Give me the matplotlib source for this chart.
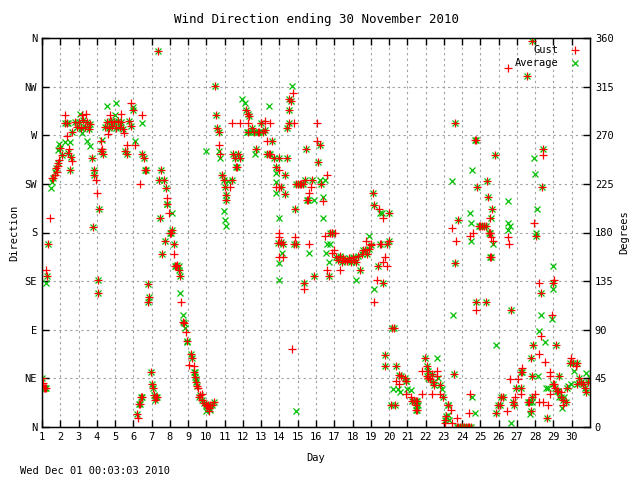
import numpy as np
import matplotlib
matplotlib.use("Agg")
import matplotlib.pyplot as plt

# (day, degrees) where gust and average direction coincide
both = [
    (1.0, 45), (1.1, 36), (1.15, 36), (1.2, 36), (1.33, 169), (1.3, 140),
    (1.6, 230), (1.75, 240), (1.85, 244),
    (2.0, 258), (2.1, 252), (2.25, 281), (2.35, 281), (2.45, 254), (2.55, 238), (2.6, 250),
    (2.65, 273), (2.8, 282), (2.9, 278),
    (3.05, 282), (3.15, 277), (3.25, 284), (3.35, 278), (3.45, 282), (3.55, 276), (3.65, 280),
    (3.74, 249), (3.83, 238), (3.83, 233), (3.8, 185),
    (4.08, 136), (4.08, 124), (4.1, 202), (4.25, 255), (4.35, 253), (4.45, 278), (4.55, 282),
    (4.65, 277), (4.75, 283), (4.85, 279), (4.95, 282),
    (5.05, 277), (5.15, 283), (5.25, 278), (5.35, 282), (5.45, 276), (5.55, 255), (5.65, 253),
    (5.75, 283), (5.85, 279), (5.98, 293),
    (6.18, 12), (6.3, 21), (6.35, 21), (6.43, 28), (6.48, 28), (6.5, 253), (6.6, 249),
    (6.66, 238), (6.72, 238), (6.78, 132), (6.87, 120), (6.83, 116), (6.96, 51),
    (7.0, 40), (7.1, 36), (7.15, 30), (7.2, 25), (7.25, 28), (7.3, 28), (7.36, 348), (7.41, 229),
    (7.47, 193), (7.5, 238), (7.58, 160), (7.69, 229), (7.73, 172), (7.78, 221), (7.85, 206),
    (8.0, 180), (8.05, 180), (8.09, 182), (8.25, 169), (8.3, 149), (8.35, 149), (8.4, 150),
    (8.5, 145), (8.58, 140), (8.7, 97), (8.8, 96), (8.95, 80),
    (9.13, 68), (9.22, 64), (9.3, 51), (9.4, 46), (9.45, 42), (9.5, 38), (9.58, 28), (9.65, 30),
    (9.77, 25), (9.85, 22),
    (10.0, 20), (10.05, 19), (10.1, 20), (10.15, 18), (10.2, 20), (10.3, 20), (10.4, 23),
    (10.46, 316), (10.5, 289), (10.6, 277), (10.68, 273),
    (10.86, 233), (10.95, 229), (11.0, 222), (11.05, 215), (11.1, 210), (11.38, 229),
    (11.45, 253), (11.55, 249), (11.6, 241), (11.65, 241), (11.75, 253), (11.85, 249),
    (12.15, 293), (12.25, 290), (12.35, 288), (12.3, 273), (12.5, 277), (12.6, 273),
    (12.7, 257), (12.8, 273), (12.9, 273),
    (13.0, 281), (13.1, 273), (13.2, 275), (13.3, 253), (13.4, 253), (13.5, 253), (13.7, 249),
    (14.0, 249), (14.06, 222), (14.3, 233), (14.3, 216), (14.4, 249),
    (13.9, 170), (14.1, 171), (14.2, 169), (14.43, 277), (14.5, 281), (14.5, 304),
    (14.52, 293), (14.65, 302), (14.85, 202),
    (14.8, 169), (14.9, 169), (14.9, 225), (15.0, 225), (15.1, 225), (15.2, 225), (15.3, 225),
    (15.33, 133), (15.43, 257), (15.4, 229), (15.5, 210), (15.55, 210), (15.8, 229), (15.9, 140),
    (16.1, 245), (16.2, 261), (16.3, 225), (16.7, 140), (16.75, 180), (16.85, 180), (16.9, 180),
    (17.1, 157), (17.2, 155), (17.3, 158), (17.4, 153), (17.5, 156), (17.6, 155), (17.7, 154),
    (17.8, 156), (17.9, 153), (18.0, 157), (18.1, 155), (18.2, 153), (18.4, 145),
    (18.3, 158), (18.5, 160), (18.6, 164), (18.7, 164), (18.8, 160), (18.9, 165), (19.0, 168),
    (19.1, 217), (19.2, 205), (19.4, 149), (19.5, 169), (19.65, 133), (19.75, 67), (19.75, 56),
    (19.9, 169), (20.0, 172), (20.0, 198),
    (20.1, 20), (20.3, 20), (20.15, 91.5), (20.25, 91.5), (20.4, 56), (20.55, 48), (20.65, 47),
    (20.85, 45), (20.9, 43), (20.95, 43),
    (21.27, 24), (21.35, 24), (21.45, 24), (21.55, 24), (21.45, 16), (21.55, 16), (21.5, 20),
    (21.96, 63.5),
    (22.05, 56), (22.15, 52), (22.05, 47), (22.15, 45), (22.25, 44), (22.35, 49), (22.4, 42),
    (22.45, 39), (22.8, 39), (22.97, 28), (23.2, 20), (23.25, 20),
    (23.04, 6.5), (23.1, 10), (23.55, 49), (23.6, 152), (23.6, 281), (23.8, 192),
    (23.7, 0), (23.8, 0), (23.9, 0), (24.0, 0), (24.1, 0), (24.2, 0), (24.3, 0), (24.4, 0), (24.5, 0),
    (24.7, 266), (24.75, 266), (24.77, 116), (24.82, 222), (24.9, 186), (25.0, 186), (25.1, 186),
    (25.2, 186), (25.3, 186),
    (25.28, 116), (25.37, 228), (25.42, 213), (25.45, 180), (25.55, 180), (25.65, 202),
    (25.8, 252), (25.5, 157), (25.6, 157),
    (25.86, 13), (25.95, 20), (26.05, 20), (26.15, 28), (26.25, 28), (26.7, 108.5), (26.8, 23),
    (26.85, 20),
    (26.95, 36), (27.2, 36), (27.2, 51), (27.25, 51), (27.56, 325), (27.6, 23), (27.67, 23),
    (27.75, 64), (27.75, 14.5), (27.8, 28), (27.84, 357), (27.85, 47), (27.9, 76),
    (28.06, 177), (28.3, 124), (28.35, 222), (28.43, 257), (28.65, 8), (28.95, 40), (28.98, 133),
    (29.1, 36), (29.2, 33), (29.25, 33), (29.3, 47), (29.15, 76), (29.4, 28), (29.5, 25),
    (29.66, 23), (29.75, 36),
    (29.9, 59), (30.05, 59), (30.3, 59), (30.3, 40), (30.4, 45), (30.5, 42), (30.6, 40),
    (30.7, 36), (30.8, 32), (30.9, 42), (31.0, 45),
]

# gust readings that differ from the average
gust_only = [
    (1.05, 41), (1.24, 145), (1.42, 193), (1.55, 230), (1.7, 233), (1.8, 236), (1.9, 242), (1.95, 247),
    (2.24, 289), (2.37, 269), (2.64, 246), (2.5, 257),
    (3.19, 289), (3.4, 290), (3.96, 229), (4.0, 217), (4.28, 257), (4.22, 265), (4.7, 289), (4.6, 271),
    (5.3, 290), (5.5, 272), (5.66, 261), (5.89, 300), (6.1, 261), (6.48, 289), (6.35, 225), (6.26, 8),
    (7.85, 212), (7.95, 198), (8.25, 160), (8.63, 116), (8.9, 88), (9.04, 57), (9.3, 56), (9.55, 36),
    (9.77, 31), (10.13, 15),
    (10.68, 261), (10.77, 253), (11.3, 222), (11.4, 281), (11.85, 281), (12.3, 281), (13.0, 281),
    (13.2, 283), (13.5, 281), (13.3, 265), (13.6, 265), (13.8, 241), (14.0, 238), (13.8, 222), (14.0, 222),
    (14.0, 180), (14.0, 176), (14.85, 176), (14.0, 157), (14.2, 157), (15.6, 169), (15.33, 128),
    (14.7, 72), (14.76, 309), (14.8, 281), (15.7, 222), (15.6, 217), (16.07, 281), (16.07, 265),
    (16.6, 233), (16.4, 209), (16.5, 177), (16.6, 145), (16.9, 161), (17.0, 164), (17.05, 180), (17.3, 145),
    (18.75, 172), (19.0, 169), (19.55, 169), (19.8, 157), (19.65, 153), (19.9, 149), (19.33, 136),
    (19.2, 116), (19.47, 202), (19.65, 193),
    (20.4, 43), (20.55, 40), (20.9, 31), (21.2, 28), (21.8, 31), (21.8, 52), (22.65, 52), (22.65, 47),
    (22.37, 31), (22.8, 31), (23.4, 15.5), (23.04, 3.5), (23.45, 3.5), (23.7, 8), (23.45, 184), (23.65, 172),
    (24.45, 177), (24.6, 180), (24.77, 108.5), (25.6, 176), (25.7, 172), (26.5, 176), (26.58, 169),
    (26.52, 332), (25.5, 193), (25.5, 180),
    (24.45, 31), (24.4, 13), (26.45, 15), (26.9, 28), (27.2, 31), (26.6, 44.5), (27.05, 44.5), (27.3, 55),
    (27.94, 189), (28.2, 133), (28.9, 104), (28.3, 84), (28.2, 67.5), (28.55, 60), (28.8, 51), (28.8, 47),
    (28.0, 31), (28.2, 23), (28.45, 23), (28.7, 20), (28.8, 31), (29.03, 40), (29.4, 32), (29.5, 20),
    (29.03, 136.5), (29.95, 64), (30.25, 56), (28.45, 252),
]

# average readings that differ from the gust
avg_only = [
    (1.24, 133), (1.5, 221), (1.55, 227), (1.7, 236), (1.9, 256), (1.95, 262),
    (2.27, 264), (2.55, 264), (2.4, 281), (3.1, 290), (3.46, 265), (3.64, 260), (3.2, 272),
    (4.56, 297), (4.3, 266), (5.07, 300), (5.0, 289), (5.98, 296), (6.1, 265), (6.48, 281),
    (7.85, 206), (8.1, 198), (8.49, 149), (8.58, 124), (8.7, 104), (8.85, 92), (8.95, 79),
    (9.35, 51), (9.45, 44), (10.0, 15), (10.2, 16),
    (10.0, 255), (10.7, 255), (10.75, 249), (10.95, 200), (11.0, 192), (11.1, 186), (11.2, 228),
    (11.96, 304), (12.1, 300), (12.2, 273), (12.4, 273), (12.66, 253), (12.7, 273), (13.4, 297),
    (13.6, 265), (13.8, 241), (13.8, 235), (13.8, 227), (13.8, 217), (14.0, 193),
    (14.7, 316), (14.15, 161), (14.0, 152), (15.6, 161), (13.95, 136.5), (14.92, 15), (15.9, 210),
    (16.2, 229), (16.5, 229), (16.4, 213), (16.4, 193),
    (16.6, 169), (16.75, 169), (16.55, 161), (16.7, 153), (18.2, 136.5), (18.9, 177), (19.2, 128),
    (19.5, 198), (19.6, 198),
    (20.2, 35), (20.5, 35), (20.6, 32), (21.0, 35), (21.2, 34), (21.6, 20), (22.6, 63.5), (22.7, 45),
    (22.9, 35), (23.2, 11), (23.3, 6.5), (23.45, 228), (23.5, 104),
    (24.5, 172), (24.55, 238), (24.45, 198), (24.5, 189), (24.55, 27.7), (24.7, 13), (25.7, 169),
    (25.6, 193), (25.85, 76), (26.52, 209), (26.5, 189), (26.6, 186), (26.65, 3.7), (26.5, 182),
    (27.7, 23), (27.8, 23), (27.7, 12), (27.94, 249), (27.99, 234), (28.1, 202), (28.06, 180),
    (28.95, 149), (29.0, 128), (28.3, 104), (28.9, 100), (28.2, 88.5), (28.55, 79), (28.15, 47),
    (28.7, 36), (28.6, 36), (29.3, 28), (29.45, 18), (29.6, 28), (29.8, 38), (29.95, 40),
    (30.4, 41), (30.8, 50), (30.1, 52),
]

day_ticks = list(range(1, 31))
dir_ticks = [0, 45, 90, 135, 180, 225, 270, 315, 360]
dir_names = ["N", "NE", "E", "SE", "S", "SW", "W", "NW", "N"]

gust = np.array(both + gust_only)
avg = np.array(both + avg_only)

plt.rcParams["font.family"] = "DejaVu Sans Mono"
plt.rcParams["font.size"] = 7.5

fig = plt.figure(figsize=(6.4, 4.8), dpi=100)
ax = fig.add_axes([42 / 640, 1 - 427 / 480, 548 / 640, 389 / 480])

ax.plot(avg[:, 0], avg[:, 1], "x", color="#00c000", ms=4.5, mew=0.9, label="Average", zorder=3)
ax.plot(gust[:, 0], gust[:, 1], "+", color="#ff0000", ms=5.5, mew=0.9, label="Gust", zorder=4)

ax.set_xlim(1, 31)
ax.set_ylim(0, 360)
ax.set_xticks(day_ticks)
ax.set_yticks(dir_ticks)
ax.set_yticklabels(dir_names)
ax.grid(True, color="#a0a0a0", linestyle=(0, (2, 3)), linewidth=0.8)
ax.tick_params(direction="in", length=5, top=True, width=1)
for s in ax.spines.values():
    s.set_linewidth(1)

ax2 = ax.twinx()
ax2.set_ylim(0, 360)
ax2.set_yticks(dir_ticks)
ax2.tick_params(direction="in", length=5, width=1)

ax.set_xlabel("Day", labelpad=8)
ax.set_ylabel("Direction")
ax2.set_ylabel("Degrees")
ax.set_title("Wind Direction ending 30 November 2010", pad=11)
fig.text(20 / 640, 1 - 471 / 480, "Wed Dec 01 00:03:03 2010", va="center")

h, l = ax.get_legend_handles_labels()
ax.legend(h[::-1], l[::-1], loc="upper right", frameon=False, markerfirst=False,
          handlelength=1.5, borderaxespad=0.3, labelspacing=0.3)

fig.savefig("out.png", dpi=100)
